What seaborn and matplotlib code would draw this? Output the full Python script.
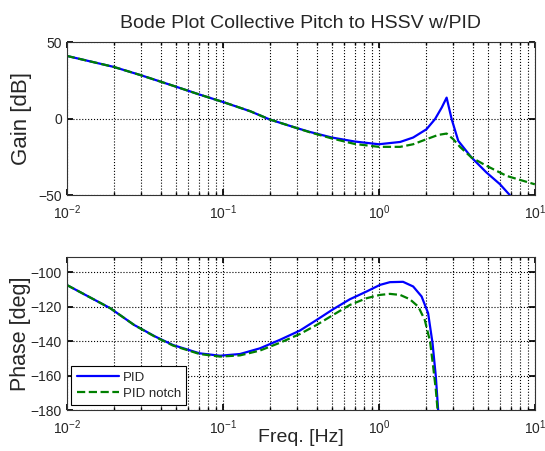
import numpy as np
import matplotlib
matplotlib.use("Agg")
import matplotlib.pyplot as plt
import seaborn as sns
from matplotlib.ticker import LogLocator, NullFormatter

# --- values ---
freq_gain_pid = [0.01, 0.02, 0.03, 0.05, 0.07, 0.1, 0.15, 0.2, 0.3, 0.36, 0.5, 0.7, 1.0,
                 1.37, 1.66, 2.02, 2.29, 2.53, 2.72, 2.93, 3.23, 3.93, 4.9, 5.97, 6.9]
gain_pid = [41, 33.8, 28.3, 20.9, 15.9, 10.9, 4.8, -0.6, -6.3, -8.7, -12.4, -15, -16.8,
            -15.3, -12.4, -7, -0.4, 7.2, 13.7, -0.4, -14.6, -25.5, -35.3, -42.9, -50]

freq_gain_notch = [0.01, 0.02, 0.03, 0.05, 0.07, 0.1, 0.15, 0.2, 0.3, 0.36, 0.5, 0.7, 1.0,
                   1.37, 1.66, 2.02, 2.4, 2.72, 3.0, 3.31, 3.93, 4.9, 6.59, 10.0]
gain_notch = [41, 33.8, 28.3, 20.9, 15.9, 10.9, 4.8, -0.6, -6.3, -8.9, -13, -16.6, -18.5,
              -18.5, -16.8, -13.5, -10.7, -9.8, -13.5, -18.5, -25.5, -30.9, -37.5, -43]

freq_phase_pid = [0.01, 0.019, 0.027, 0.037, 0.048, 0.071, 0.096, 0.129, 0.173, 0.232,
                  0.312, 0.40, 0.51, 0.653, 0.836, 1.016, 1.178, 1.43, 1.66, 1.88,
                  2.07, 2.21, 2.32, 2.40]
phase_pid = [-107.4, -120.9, -130.6, -137.4, -142.3, -147.1, -148.5, -147.5, -144.2, -139.3,
             -133.9, -127.7, -121.5, -115.7, -111.2, -107.4, -105.8, -105.6, -108.3, -114.1,
             -123.8, -141.3, -160.7, -180]

freq_phase_notch = [0.01, 0.019, 0.027, 0.037, 0.048, 0.071, 0.096, 0.129, 0.173, 0.232,
                    0.312, 0.40, 0.51, 0.653, 0.836, 1.016, 1.178, 1.37, 1.58, 1.79,
                    1.97, 2.13, 2.23, 2.32, 2.38]
phase_notch = [-107.4, -120.9, -130.6, -137.6, -142.6, -147.5, -149, -148.3, -145.5, -141,
               -135.9, -130.6, -124.8, -119, -115.1, -113.2, -112.6, -113.2, -115.7, -120,
               -127.7, -140.3, -154.8, -168.4, -180]

labels = ["PID", "PID notch"]

sns.set_theme(style="white")
plt.rcParams["font.family"] = ["Liberation Sans", "DejaVu Sans"]
plt.rcParams["mathtext.fontset"] = "custom"
plt.rcParams["mathtext.rm"] = "Liberation Sans"

fig = plt.figure(figsize=(5.45, 4.51), dpi=100)
ax1 = fig.add_axes([0.1224, 0.5676, 0.859, 0.339])
ax2 = fig.add_axes([0.1224, 0.0909, 0.859, 0.340])

sns.lineplot(x=freq_gain_pid, y=gain_pid, ax=ax1, color="#0000ff", lw=1.6)
sns.lineplot(x=freq_gain_notch, y=gain_notch, ax=ax1, color="#008000", lw=1.6,
             linestyle="--", dashes=(4.5, 2.2))

sns.lineplot(x=freq_phase_pid, y=phase_pid, ax=ax2, color="#0000ff", lw=1.6, label=labels[0])
sns.lineplot(x=freq_phase_notch, y=phase_notch, ax=ax2, color="#008000", lw=1.6,
             linestyle="--", dashes=(4.5, 2.2), label=labels[1])

for ax in (ax1, ax2):
    ax.set_xscale("log")
    ax.set_xlim(0.01, 10)
    ax.xaxis.set_major_locator(LogLocator(base=10))
    ax.xaxis.set_minor_locator(LogLocator(base=10, subs=np.arange(2, 10)))
    ax.xaxis.set_minor_formatter(NullFormatter())
    ax.grid(True, which="major", color="black", linestyle=":", lw=0.8)
    ax.grid(True, which="minor", axis="x", color="black", linestyle=":", lw=0.8)
    ax.tick_params(which="both", direction="in", top=True, right=True, labelsize=10,
                   length=4, color="black", bottom=True, left=True)
    ax.tick_params(axis="x", which="major", pad=6)
    ax.tick_params(which="minor", length=2)
    for s in ax.spines.values():
        s.set_color("#333333")
        s.set_linewidth(0.8)

ax1.set_ylim(-50, 50)
ax1.set_yticks([-50, 0, 50])
ax1.set_ylabel("Gain [dB]", fontsize=16)
ax1.yaxis.set_label_coords(-0.075, 0.5)
ax1.set_title("Bode Plot Collective Pitch to HSSV w/PID", fontsize=14, pad=10)

ax2.set_ylim(-180, -91)
ax2.set_yticks([-180, -160, -140, -120, -100])
ax2.set_ylabel("Phase [deg]", fontsize=15.5)
ax2.yaxis.set_label_coords(-0.077, 0.5)
ax2.set_xlabel("Freq. [Hz]", fontsize=14, labelpad=-6)

leg = ax2.legend(loc="lower left", fontsize=9.5, frameon=True, fancybox=False,
                 edgecolor="black", framealpha=1, borderaxespad=0.35, handlelength=3.2,
                 handletextpad=0.3, borderpad=0.4, labelspacing=0.3)
leg.get_frame().set_linewidth(0.8)

fig.savefig("out.png", dpi=100)
